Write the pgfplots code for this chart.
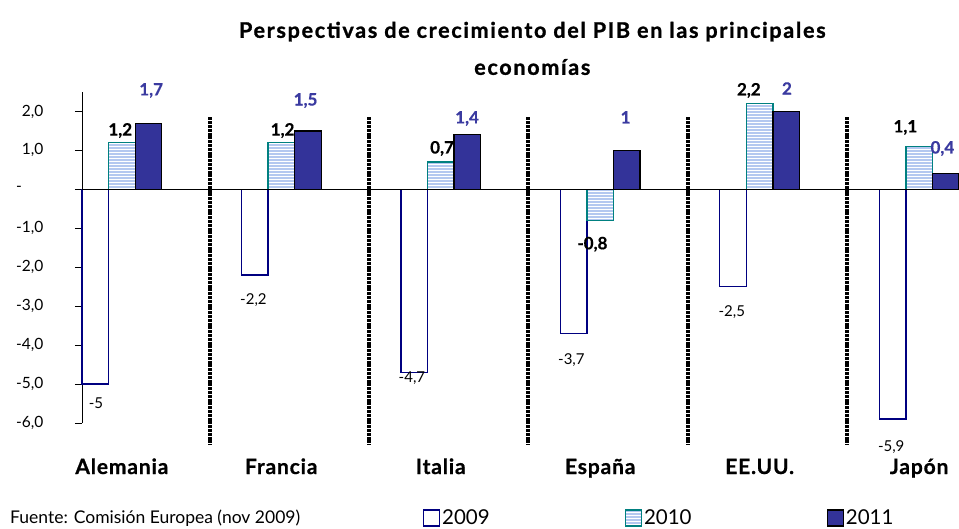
\documentclass[border=0pt]{standalone}
\usepackage{pgfplots}
\pgfplotsset{compat=1.18}
\usepackage{fontspec}
\setmainfont{Lato}
\usetikzlibrary{patterns}
\definecolor{c09}{HTML}{000080}
\definecolor{c10f}{HTML}{B4C8F0}
\definecolor{c10b}{HTML}{008080}
\definecolor{c11}{HTML}{333399}
\definecolor{lblue}{HTML}{3A3AA0}
\pgfplotstableread{
x y09 y10 y11
0 -5.0 1.2 1.7
1 -2.2 1.2 1.5
2 -4.7 0.7 1.4
3 -3.7 -0.8 1.0
4 -2.5 2.2 2.0
5 -5.9 1.1 0.4
}\datatab
\begin{document}
\begin{tikzpicture}
\begin{axis}[
  scale only axis, width=877pt, height=331pt,
  xmin=-0.25, xmax=5.25, ymin=-6, ymax=2.5,
  clip=false,
  axis y line*=left, axis x line*=bottom,
  x axis line style={draw=none},
  xtick={0,1,2,3,4,5}, xtick style={draw=none},
  xticklabels={Alemania,Francia,Italia,España,EE.UU.,Japón},
  xticklabel style={font=\fontsize{21}{24}\selectfont\bfseries\addfontfeatures{LetterSpace=4,FakeBold=0.8}, anchor=base, yshift=-44pt},
  ytick={-6,-5,-4,-3,-2,-1,0,1,2},
  yticklabels={{-6,0},{-5,0},{-4,0},{-3,0},{-2,0},{-1,0},{-\hphantom{0,0}},{1,0},{2,0}},
  yticklabel style={font=\fontsize{15.5}{17}\selectfont, xshift=-28pt},
  tick align=outside, major tick length=7pt,
  ytick style={black}, y axis line style={black, line width=0.6pt},
  ybar, bar width=0.1667,
  legend columns=3,
  legend style={draw=none, fill=none, at={(0.385,-0.287)}, anchor=west,
    font=\fontsize{20.5}{22}\selectfont,
    /tikz/every even column/.append style={column sep=133pt}},
  legend image code/.code={\draw[#1] (0pt,-8pt) rectangle (16pt,8pt);},
]
\addplot[bar shift=-0.1667, draw=c09, fill=white, line width=1.3pt] table[x=x,y=y09]{\datatab};
\addplot[bar shift=0, draw=c10b, fill=c10f, line width=1.3pt, postaction={pattern=horizontal lines, pattern color=white}] table[x=x,y=y10]{\datatab};
\addplot[bar shift=0.1667, draw=black, fill=c11, line width=1.3pt] table[x=x,y=y11]{\datatab};
\legend{2009,2010,2011}
\addplot[sharp plot, black, line width=0.8pt, forget plot] coordinates {(-0.25,0) (5.25,0)};
\pgfplotsinvokeforeach{0.55,1.55,2.55,3.55,4.55}{
  \addplot[sharp plot, black, line width=4pt, dash pattern=on 3pt off 0.8pt, forget plot] coordinates {(#1,1.85) (#1,-6.55)};
}
% data labels
\begin{scope}[every node/.style={font=\fontsize{15}{17}\selectfont}]
\node at (axis cs:-0.162,-5.49) {-5};
\node at (axis cs:0.825,-2.85) {-2,2};
\node at (axis cs:1.819,-4.85) {-4,7};
\node at (axis cs:2.819,-4.38) {-3,7};
\node at (axis cs:3.825,-3.15) {-2,5};
\node at (axis cs:4.825,-6.62) {-5,9};
\end{scope}
\begin{scope}[every node/.style={font=\fontsize{17}{19}\selectfont\bfseries\addfontfeatures{FakeBold=0.6}}]
\node at (axis cs:-0.01,1.51) {1,2};
\node at (axis cs:1.008,1.51) {1,2};
\node at (axis cs:2.008,1.05) {0,7};
\node at (axis cs:2.951,-1.41) {-0,8};
\node at (axis cs:3.932,2.54) {2,2};
\node at (axis cs:4.914,1.59) {1,1};
\end{scope}
\begin{scope}[every node/.style={font=\fontsize{17}{19}\selectfont\bfseries\addfontfeatures{FakeBold=0.6}, text=lblue}]
\node at (axis cs:0.184,2.54) {1,7};
\node at (axis cs:1.152,2.28) {1,5};
\node at (axis cs:2.165,1.82) {1,4};
\node at (axis cs:3.159,1.85) {1};
\node at (axis cs:4.171,2.59) {2};
\node at (axis cs:5.146,1.05) {0,4};
\end{scope}
\node[font=\fontsize{21.5}{37}\selectfont\bfseries\addfontfeatures{LetterSpace=8,FakeBold=1.2}, align=center] at (axis cs:2.574,3.62)
  {Perspectivas de crecimiento del PIB en las principales\\economías};
\node[font=\fontsize{17.5}{19}\selectfont, anchor=west] at (rel axis cs:-0.086,-0.287) {Fuente: Comisión Europea (nov 2009)};
\end{axis}
\pgfresetboundingbox
\path (current axis.south west) ++(-82pt,-105pt) rectangle ++(959pt,528pt);
\end{tikzpicture}
\end{document}
